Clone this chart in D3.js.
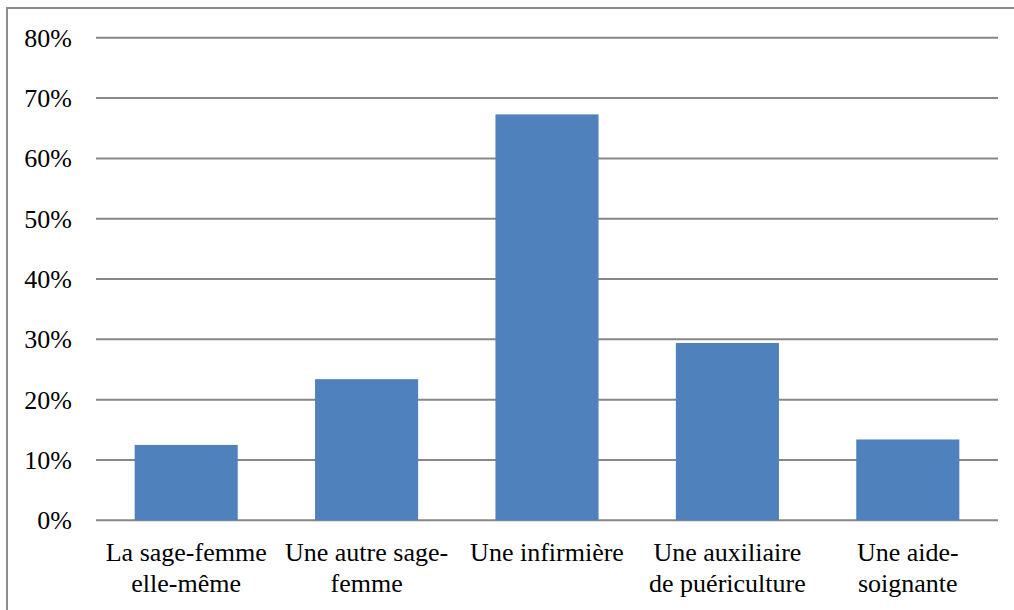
<!DOCTYPE html>
<html>
<head>
<meta charset="utf-8">
<script src="https://cdn.jsdelivr.net/npm/d3@7"></script>
<style>
  body { margin: 0; background: #fff; }
</style>
</head>
<body>
<div id="vis"></div>
<script>
// data
const CATEGORIES = [
  ["La sage-femme", "elle-même"],
  ["Une autre sage-", "femme"],
  ["Une infirmière"],
  ["Une auxiliaire", "de puériculture"],
  ["Une aide-", "soignante"]
];
const VALUES = [12.5, 23.4, 67.3, 29.4, 13.4];
const TICKS = [0, 10, 20, 30, 40, 50, 60, 70, 80];

const FONT = "'Liberation Serif', 'Times New Roman', serif";
const FRAME_WIDTH = 1014;
const FRAME_HEIGHT = 610;
const MARGINS = {left: 96, right: 16, top: 37.8, bottom: 89.7};

const FRAME = d3.select("#vis")
                .append("svg")
                .attr("width", FRAME_WIDTH)
                .attr("height", FRAME_HEIGHT);

// outer chart border (top and left only visible)
FRAME.append("path")
     .attr("d", "M7," + FRAME_HEIGHT + "V8H" + FRAME_WIDTH)
     .attr("fill", "none")
     .attr("stroke", "#8c8c8c")
     .attr("stroke-width", 2);

const X_SCALE = d3.scaleBand()
                  .domain(d3.range(CATEGORIES.length))
                  .range([MARGINS.left, FRAME_WIDTH - MARGINS.right])
                  .paddingInner(0.4286)
                  .paddingOuter(0.2143);

const Y_SCALE = d3.scaleLinear()
                  .domain([0, 80])
                  .range([FRAME_HEIGHT - MARGINS.bottom, MARGINS.top]);

// gridlines
FRAME.selectAll(".grid")
     .data(TICKS)
     .enter()
     .append("line")
     .attr("x1", MARGINS.left)
     .attr("x2", FRAME_WIDTH - MARGINS.right)
     .attr("y1", d => Y_SCALE(d))
     .attr("y2", d => Y_SCALE(d))
     .attr("stroke", "#878787")
     .attr("stroke-width", 2);

// y axis labels
const yAxis = FRAME.append("g")
                   .attr("transform", "translate(" + MARGINS.left + ",0)")
                   .call(d3.axisLeft(Y_SCALE).tickValues(TICKS)
                           .tickFormat(d => d + "%").tickSize(0).tickPadding(24));
yAxis.attr("font-family", FONT).attr("font-size", 26);
yAxis.select(".domain").remove();
yAxis.selectAll("text").attr("fill", "#000");

// bars
FRAME.selectAll(".bar")
     .data(VALUES)
     .enter()
     .append("rect")
     .attr("x", (d, i) => X_SCALE(i))
     .attr("y", d => Y_SCALE(d))
     .attr("width", X_SCALE.bandwidth())
     .attr("height", d => Y_SCALE(0) - Y_SCALE(d))
     .attr("fill", "#4F81BD");

// category labels (two lines)
const labels = FRAME.append("g").attr("font-family", FONT).attr("font-size", 26);
CATEGORIES.forEach((lines, i) => {
  const t = labels.append("text")
                  .attr("text-anchor", "middle")
                  .attr("x", X_SCALE(i) + X_SCALE.bandwidth() / 2)
                  .attr("y", 561);
  lines.forEach((s, j) => {
    t.append("tspan")
     .attr("x", X_SCALE(i) + X_SCALE.bandwidth() / 2)
     .attr("dy", j === 0 ? 0 : 31)
     .text(s);
  });
});
</script>
</body>
</html>
